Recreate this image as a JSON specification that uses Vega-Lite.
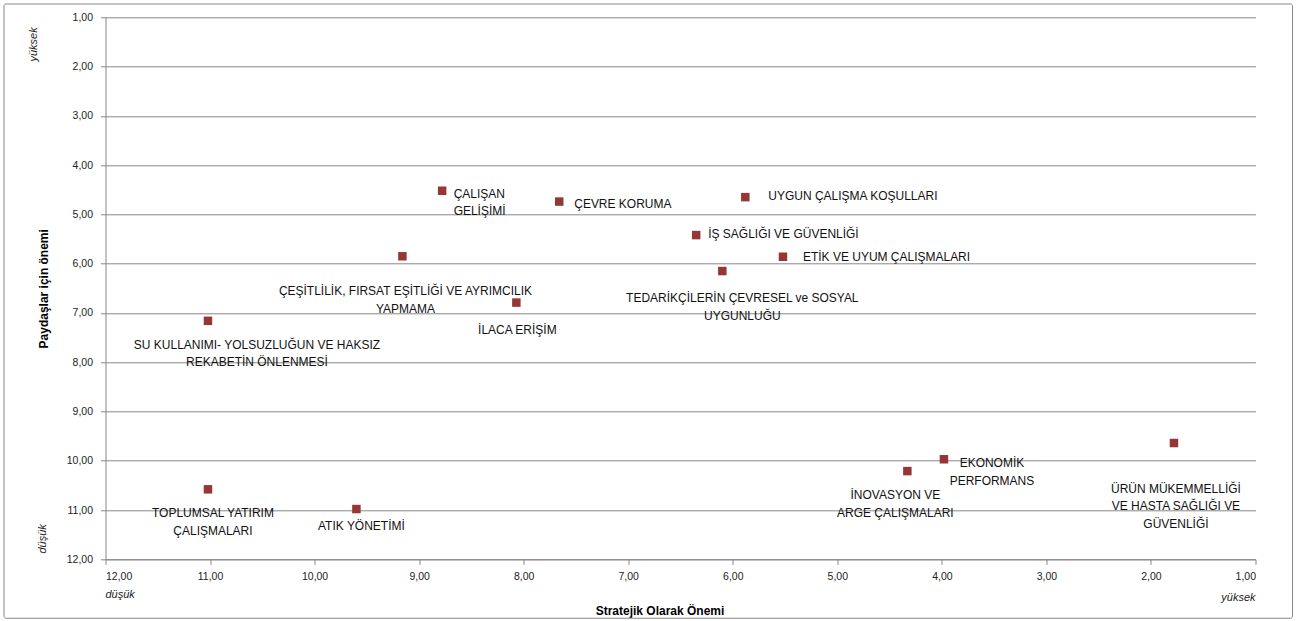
{
  "$schema": "https://vega.github.io/schema/vega-lite/v6.json",
  "width": 1150,
  "height": 542,
  "autosize": {"type": "none"},
  "padding": {"left": 105.5, "top": 17.3, "right": 42.5, "bottom": 62},
  "background": "white",
  "config": {
    "font": "Liberation Sans",
    "view": {"stroke": null},
    "axis": {
      "labelFont": "Liberation Sans",
      "labelFontSize": 10.5,
      "labelColor": "#222222",
      "domainColor": "#878787",
      "tickColor": "#878787",
      "gridColor": "#878787",
      "tickSize": 5,
      "labelPadding": 7,
      "titleFont": "Liberation Sans",
      "titleFontSize": 12,
      "titleFontWeight": "bold",
      "titleColor": "#000000"
    },
    "text": {"font": "Liberation Sans", "fontSize": 12, "color": "#111111", "lineHeight": 17.5, "baseline": "middle"}
  },
  "datasets": {
    "konular": [
      {"konu": "ÇALIŞAN GELİŞİMİ", "strateji": 8.78, "paydas": 4.52, "etiket": ["ÇALIŞAN", "GELİŞİMİ"]},
      {"konu": "ÇEVRE KORUMA", "strateji": 7.66, "paydas": 4.74, "etiket": ["ÇEVRE KORUMA"]},
      {"konu": "UYGUN ÇALIŞMA KOŞULLARI", "strateji": 5.88, "paydas": 4.65, "etiket": ["UYGUN ÇALIŞMA KOŞULLARI"]},
      {"konu": "İŞ SAĞLIĞI VE GÜVENLİĞİ", "strateji": 6.35, "paydas": 5.42, "etiket": ["İŞ SAĞLIĞI VE GÜVENLİĞİ"]},
      {"konu": "ETİK VE UYUM ÇALIŞMALARI", "strateji": 5.52, "paydas": 5.86, "etiket": ["ETİK VE UYUM ÇALIŞMALARI"]},
      {"konu": "TEDARİKÇİLERİN ÇEVRESEL ve SOSYAL UYGUNLUĞU", "strateji": 6.10, "paydas": 6.15, "etiket": ["TEDARİKÇİLERİN ÇEVRESEL ve SOSYAL", "UYGUNLUĞU"]},
      {"konu": "ÇEŞİTLİLİK, FIRSAT EŞİTLİĞİ VE AYRIMCILIK YAPMAMA", "strateji": 9.16, "paydas": 5.85, "etiket": ["ÇEŞİTLİLİK, FIRSAT EŞİTLİĞİ VE AYRIMCILIK", "YAPMAMA"]},
      {"konu": "İLACA ERİŞİM", "strateji": 8.07, "paydas": 6.79, "etiket": ["İLACA ERİŞİM"]},
      {"konu": "SU KULLANIMI- YOLSUZLUĞUN VE HAKSIZ REKABETİN ÖNLENMESİ", "strateji": 11.02, "paydas": 7.16, "etiket": ["SU KULLANIMI- YOLSUZLUĞUN VE HAKSIZ", "REKABETİN ÖNLENMESİ"]},
      {"konu": "TOPLUMSAL YATIRIM ÇALIŞMALARI", "strateji": 11.02, "paydas": 10.58, "etiket": ["TOPLUMSAL YATIRIM", "ÇALIŞMALARI"]},
      {"konu": "ATIK YÖNETİMİ", "strateji": 9.60, "paydas": 10.98, "etiket": ["ATIK YÖNETİMİ"]},
      {"konu": "İNOVASYON VE ARGE ÇALIŞMALARI", "strateji": 4.33, "paydas": 10.21, "etiket": ["İNOVASYON VE", "ARGE ÇALIŞMALARI"]},
      {"konu": "EKONOMİK PERFORMANS", "strateji": 3.98, "paydas": 9.97, "etiket": ["EKONOMİK", "PERFORMANS"]},
      {"konu": "ÜRÜN MÜKEMMELLİĞİ VE HASTA SAĞLIĞI VE GÜVENLİĞİ", "strateji": 1.78, "paydas": 9.64, "etiket": ["ÜRÜN MÜKEMMELLİĞİ", "VE HASTA SAĞLIĞI VE", "GÜVENLİĞİ"]}
    ],
    "uclar": [
      {"uc": "x-düşük", "t": "düşük"},
      {"uc": "x-yüksek", "t": "yüksek"},
      {"uc": "y-yüksek", "t": "yüksek"},
      {"uc": "y-düşük", "t": "düşük"}
    ]
  },
  "layer": [
    {
      "data": {"name": "konular"},
      "encoding": {
        "x": {
          "field": "strateji",
          "type": "quantitative",
          "scale": {"domain": [1, 12], "reverse": true, "nice": false, "zero": false},
          "axis": {
            "values": [1, 2, 3, 4, 5, 6, 7, 8, 9, 10, 11, 12],
            "labelExpr": "replace(format(datum.value, '.2f'), '.', ',')",
            "grid": false,
            "title": "Stratejik Olarak Önemi",
            "titleX": 554,
            "titleY": 51,
            "titleAlign": "center",
            "titleBaseline": "middle"
          }
        },
        "y": {
          "field": "paydas",
          "type": "quantitative",
          "scale": {"domain": [1, 12], "reverse": true, "nice": false, "zero": false},
          "axis": {
            "values": [1, 2, 3, 4, 5, 6, 7, 8, 9, 10, 11, 12],
            "labelExpr": "replace(format(datum.value, '.2f'), '.', ',')",
            "grid": true,
            "labelPadding": 8,
            "title": "Paydaşlar için önemi",
            "titleAngle": 270,
            "titleX": -62,
            "titleY": 271,
            "titleAlign": "center",
            "titleBaseline": "middle"
          }
        }
      },
      "layer": [
        {"mark": {"type": "point", "shape": "square", "filled": true, "size": 72, "color": "#953735", "opacity": 1}},
        {"transform": [{"filter": "datum.konu == 'ÇALIŞAN GELİŞİMİ'"}], "mark": {"type": "text", "align": "left", "dx": 11.5, "dy": 3}, "encoding": {"text": {"field": "etiket"}}},
        {"transform": [{"filter": "datum.konu == 'ÇEVRE KORUMA'"}], "mark": {"type": "text", "align": "left", "dx": 15, "dy": 2}, "encoding": {"text": {"field": "etiket"}}},
        {"transform": [{"filter": "datum.konu == 'UYGUN ÇALIŞMA KOŞULLARI'"}], "mark": {"type": "text", "align": "left", "dx": 23, "dy": -1}, "encoding": {"text": {"field": "etiket"}}},
        {"transform": [{"filter": "datum.konu == 'İŞ SAĞLIĞI VE GÜVENLİĞİ'"}], "mark": {"type": "text", "align": "left", "dx": 12, "dy": -1}, "encoding": {"text": {"field": "etiket"}}},
        {"transform": [{"filter": "datum.konu == 'ETİK VE UYUM ÇALIŞMALARI'"}], "mark": {"type": "text", "align": "left", "dx": 20, "dy": 0}, "encoding": {"text": {"field": "etiket"}}},
        {"transform": [{"filter": "datum.konu == 'TEDARİKÇİLERİN ÇEVRESEL ve SOSYAL UYGUNLUĞU'"}], "mark": {"type": "text", "align": "center", "dx": 20, "dy": 27}, "encoding": {"text": {"field": "etiket"}}},
        {"transform": [{"filter": "datum.konu == 'ÇEŞİTLİLİK, FIRSAT EŞİTLİĞİ VE AYRIMCILIK YAPMAMA'"}], "mark": {"type": "text", "align": "center", "dx": 3, "dy": 35}, "encoding": {"text": {"field": "etiket"}}},
        {"transform": [{"filter": "datum.konu == 'İLACA ERİŞİM'"}], "mark": {"type": "text", "align": "center", "dx": 1, "dy": 27}, "encoding": {"text": {"field": "etiket"}}},
        {"transform": [{"filter": "datum.konu == 'SU KULLANIMI- YOLSUZLUĞUN VE HAKSIZ REKABETİN ÖNLENMESİ'"}], "mark": {"type": "text", "align": "center", "dx": 49, "dy": 24}, "encoding": {"text": {"field": "etiket"}}},
        {"transform": [{"filter": "datum.konu == 'TOPLUMSAL YATIRIM ÇALIŞMALARI'"}], "mark": {"type": "text", "align": "center", "dx": 5, "dy": 24}, "encoding": {"text": {"field": "etiket"}}},
        {"transform": [{"filter": "datum.konu == 'ATIK YÖNETİMİ'"}], "mark": {"type": "text", "align": "center", "dx": 5, "dy": 17}, "encoding": {"text": {"field": "etiket"}}},
        {"transform": [{"filter": "datum.konu == 'İNOVASYON VE ARGE ÇALIŞMALARI'"}], "mark": {"type": "text", "align": "center", "dx": -12, "dy": 24}, "encoding": {"text": {"field": "etiket"}}},
        {"transform": [{"filter": "datum.konu == 'EKONOMİK PERFORMANS'"}], "mark": {"type": "text", "align": "center", "dx": 48, "dy": 4}, "encoding": {"text": {"field": "etiket"}}},
        {"transform": [{"filter": "datum.konu == 'ÜRÜN MÜKEMMELLİĞİ VE HASTA SAĞLIĞI VE GÜVENLİĞİ'"}], "mark": {"type": "text", "align": "center", "dx": 2, "dy": 46}, "encoding": {"text": {"field": "etiket"}}}
      ]
    },
    {
      "data": {"name": "uclar"},
      "transform": [{"filter": "datum.uc == 'x-düşük'"}],
      "mark": {"type": "text", "align": "left", "fontStyle": "italic", "fontSize": 11, "color": "#222222"},
      "encoding": {"x": {"datum": 12, "type": "quantitative"}, "y": {"datum": 12.72, "type": "quantitative"}, "text": {"field": "t", "type": "nominal"}}
    },
    {
      "data": {"name": "uclar"},
      "transform": [{"filter": "datum.uc == 'x-yüksek'"}],
      "mark": {"type": "text", "align": "right", "fontStyle": "italic", "fontSize": 11, "color": "#222222"},
      "encoding": {"x": {"datum": 1, "type": "quantitative"}, "y": {"datum": 12.79, "type": "quantitative"}, "text": {"field": "t", "type": "nominal"}}
    },
    {
      "data": {"name": "uclar"},
      "transform": [{"filter": "datum.uc == 'y-yüksek'"}],
      "mark": {"type": "text", "align": "center", "angle": 270, "fontStyle": "italic", "fontSize": 11, "color": "#222222"},
      "encoding": {"x": {"datum": 12.68, "type": "quantitative"}, "y": {"datum": 1.55, "type": "quantitative"}, "text": {"field": "t", "type": "nominal"}}
    },
    {
      "data": {"name": "uclar"},
      "transform": [{"filter": "datum.uc == 'y-düşük'"}],
      "mark": {"type": "text", "align": "center", "angle": 270, "fontStyle": "italic", "fontSize": 11, "color": "#222222"},
      "encoding": {"x": {"datum": 12.595, "type": "quantitative"}, "y": {"datum": 11.585, "type": "quantitative"}, "text": {"field": "t", "type": "nominal"}}
    },
    {
      "data": {"values": [{}]},
      "mark": {"type": "rect", "filled": false, "stroke": "#878787", "strokeWidth": 1, "cornerRadius": 2},
      "encoding": {"x": {"datum": 12.971, "type": "quantitative"}, "x2": {"datum": 0.646}, "y": {"datum": 0.73, "type": "quantitative"}, "y2": {"datum": 13.197}}
    }
  ]
}
